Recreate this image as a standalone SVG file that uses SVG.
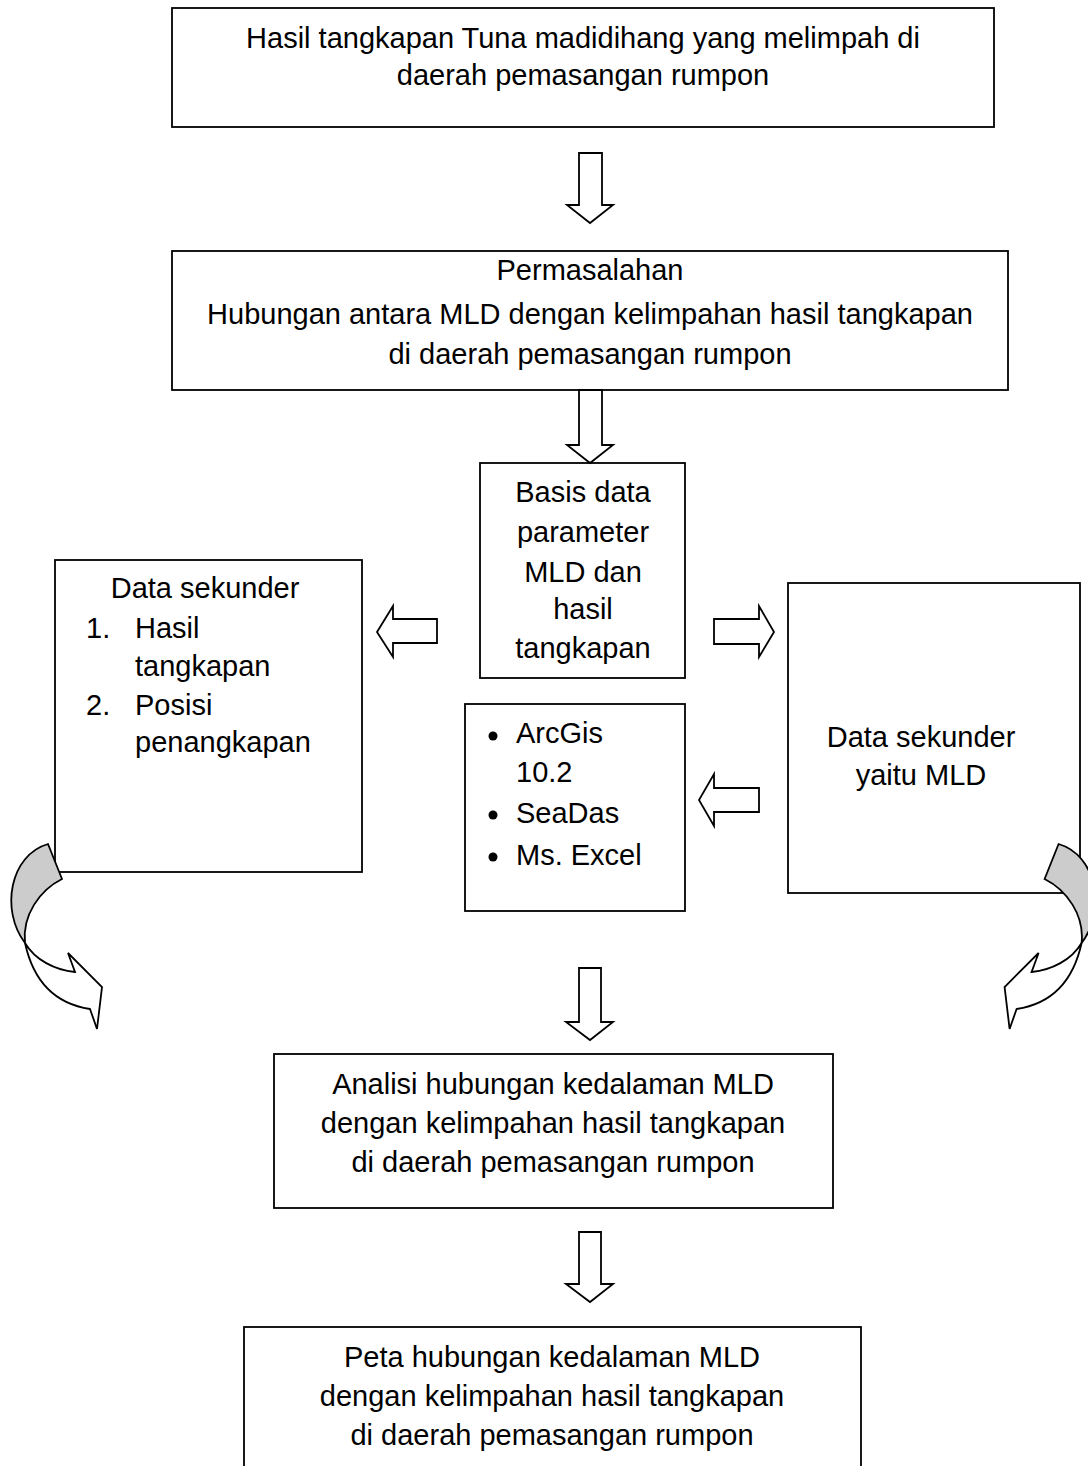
<svg xmlns="http://www.w3.org/2000/svg" width="1088" height="1466" viewBox="0 0 1088 1466">
<style>
.box{fill:#fff;stroke:#000;stroke-width:1.8}
.arr{fill:#fff;stroke:#000;stroke-width:1.8;stroke-linejoin:miter}
.t{font-family:"Liberation Sans",Arial,sans-serif;font-size:29px;fill:#000}
.c{text-anchor:middle}
.gray{fill:#cccccc;stroke:#000;stroke-width:1.8}
</style>
<rect width="1088" height="1466" fill="#fff"/>
<g id="n1">
<rect class="box" x="172" y="8" width="822" height="119"/>
<text class="t c" x="583" y="48">Hasil tangkapan Tuna madidihang yang melimpah di</text>
<text class="t c" x="583" y="85">daerah pemasangan rumpon</text>
</g>
<g id="n2">
<rect class="box" x="172" y="251" width="836" height="139"/>
<text class="t c" x="590" y="280">Permasalahan</text>
<text class="t c" x="590" y="324">Hubungan antara MLD dengan kelimpahan hasil tangkapan</text>
<text class="t c" x="590" y="364">di daerah pemasangan rumpon</text>
</g>
<g id="n3">
<rect class="box" x="480" y="463" width="205" height="215"/>
<text class="t c" x="583" y="502">Basis data</text>
<text class="t c" x="583" y="542">parameter</text>
<text class="t c" x="583" y="582">MLD dan</text>
<text class="t c" x="583" y="619">hasil</text>
<text class="t c" x="583" y="658">tangkapan</text>
</g>
<g id="n4">
<rect class="box" x="55" y="560" width="307" height="312"/>
<text class="t c" x="205" y="598">Data sekunder</text>
<text class="t" x="86" y="638">1.</text>
<text class="t" x="135" y="638">Hasil</text>
<text class="t" x="135" y="676">tangkapan</text>
<text class="t" x="86" y="715">2.</text>
<text class="t" x="135" y="715">Posisi</text>
<text class="t" x="135" y="752">penangkapan</text>
</g>
<g id="n5">
<rect class="box" x="788" y="583" width="292" height="310"/>
<text class="t c" x="921" y="747">Data sekunder</text>
<text class="t c" x="921" y="785">yaitu MLD</text>
</g>
<g id="n6">
<rect class="box" x="465" y="704" width="220" height="207"/>
<circle cx="493" cy="736" r="4.5" fill="#000"/>
<text class="t" x="516" y="743">ArcGis</text>
<text class="t" x="516" y="782">10.2</text>
<circle cx="493" cy="815" r="4.5" fill="#000"/>
<text class="t" x="516" y="823">SeaDas</text>
<circle cx="493" cy="857" r="4.5" fill="#000"/>
<text class="t" x="516" y="865">Ms. Excel</text>
</g>
<g id="n7">
<rect class="box" x="274" y="1054" width="559" height="154"/>
<text class="t c" x="553" y="1094">Analisi hubungan kedalaman MLD</text>
<text class="t c" x="553" y="1133">dengan kelimpahan hasil tangkapan</text>
<text class="t c" x="553" y="1172">di daerah pemasangan rumpon</text>
</g>
<g id="n8">
<rect class="box" x="244" y="1327" width="617" height="150"/>
<text class="t c" x="552" y="1367">Peta hubungan kedalaman MLD</text>
<text class="t c" x="552" y="1406">dengan kelimpahan hasil tangkapan</text>
<text class="t c" x="552" y="1445">di daerah pemasangan rumpon</text>
</g>
<g id="connectors">
<polygon class="arr" points="579,153 602,153 602,205 613,205 590,223 567,205 579,205"/>
<polygon class="arr" points="579,390 602,390 602,445 613,445 590,463 567,445 579,445"/>
<polygon class="arr" points="437,619 393,619 393,606 377,632 393,657 393,643 437,643"/>
<polygon class="arr" points="714,619 759,619 759,606 774,632 759,657 759,644 714,644"/>
<polygon class="arr" points="759,788 714,788 714,774 699,800 714,826 714,812 759,812"/>
<polygon class="arr" points="579,968 601,968 601,1022 613,1022 590,1040 566,1022 579,1022"/>
<polygon class="arr" points="579,1232 601,1232 601,1284 613,1284 590,1302 566,1284 579,1284"/>
<g id="curved-left">
<path class="gray" d="M48,844 L62,879 C40,890 22,915 25,943 C0,910 10,855 48,844 Z"/>
<path class="arr" d="M25,943 C32,975 50,1003 90,1009 L97,1029 L102,987 L68,953 L75,972 C55,970 35,960 25,943 Z"/>
</g>
<g id="curved-right" transform="translate(1106.6,0) scale(-1,1)">
<path class="gray" d="M48,844 L62,879 C40,890 22,915 25,943 C0,910 10,855 48,844 Z"/>
<path class="arr" d="M25,943 C32,975 50,1003 90,1009 L97,1029 L102,987 L68,953 L75,972 C55,970 35,960 25,943 Z"/>
</g>
</g>
</svg>
